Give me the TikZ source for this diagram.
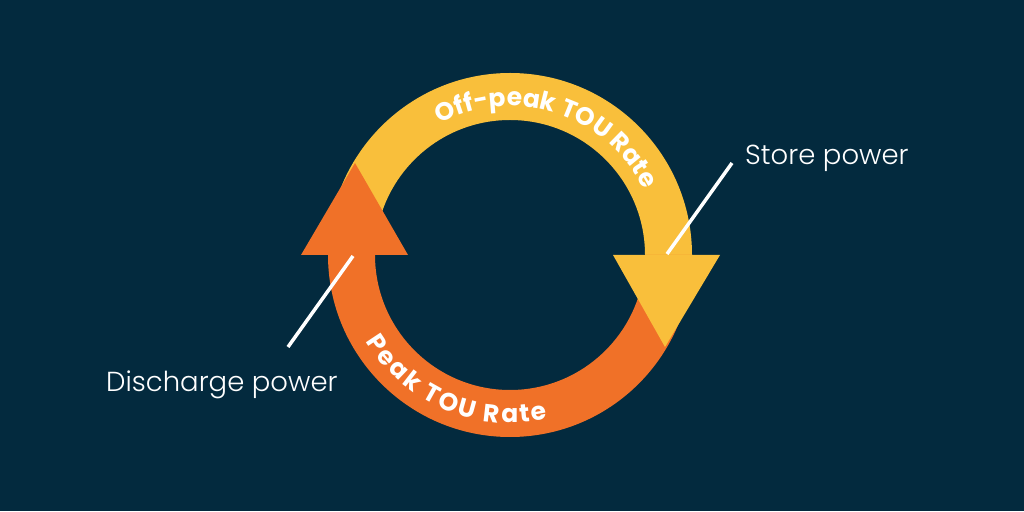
\documentclass[tikz,border=0pt]{standalone}
\usepackage{fontspec}
\setmainfont{Poppins}
\newfontfamily\thinfont{Poppins Light}
\usetikzlibrary{decorations.text}
\definecolor{navybg}{HTML}{032A3E}
\definecolor{offpeak}{HTML}{F9BF3B}
\definecolor{peak}{HTML}{F07128}

\begin{document}
\begin{tikzpicture}[x=1pt,y=1pt,
    callout/.style={white,line width=3.5pt},
    side label/.style={text=white,font=\thinfont\fontsize{27.5}{30}\selectfont,inner sep=0pt}]
    % background
    \fill[navybg] (0,0) rectangle (1024,511);
    \coordinate (c) at (510,256);
    % Off-peak band (top)
    \fill[offpeak] ([shift={(180:182)}]c) arc (180:0:182) -- ([shift={(0:135)}]c) arc (0:180:135) -- cycle;
    % Peak band (bottom)
    \fill[peak] ([shift={(0:182)}]c) arc (0:-180:182) -- ([shift={(180:135)}]c) arc (-180:0:135) -- cycle;
    % Heads
    \fill[peak] (301,256) -- (355,348) -- (408,256) -- cycle;
    \fill[offpeak] (613,256) -- (665,164) -- (720,256) -- cycle;
    % Rates on the bands
    \path[decorate,decoration={text along path,text align=fit to path,text color=white,
        text={|\bfseries\fontsize{25}{28}\selectfont|Off-peak TOU Rate}}]
        ([shift={(118:149)}]c) arc (118:26:149);
    \path[decorate,decoration={text along path,text align=fit to path,text color=white,
        text={|\bfseries\fontsize{25}{28}\selectfont|Peak TOU Rate}}]
        ([shift={(211:168)}]c) arc (211:283:168);
    % Labels
    \node[side label,anchor=base west] (store) at (745,346) {Store power};
    \node[side label,anchor=base west] (discharge) at (106,119) {Discharge power};
    \coordinate (storetop) at (732,348);
    \coordinate (storefoot) at (667,257);
    \coordinate (dischargetop) at (353,255);
    \coordinate (dischargefoot) at (288,164);
    \draw[callout] (storetop) -- (storefoot);
    \draw[callout] (dischargetop) -- (dischargefoot);
\end{tikzpicture}
\end{document}
